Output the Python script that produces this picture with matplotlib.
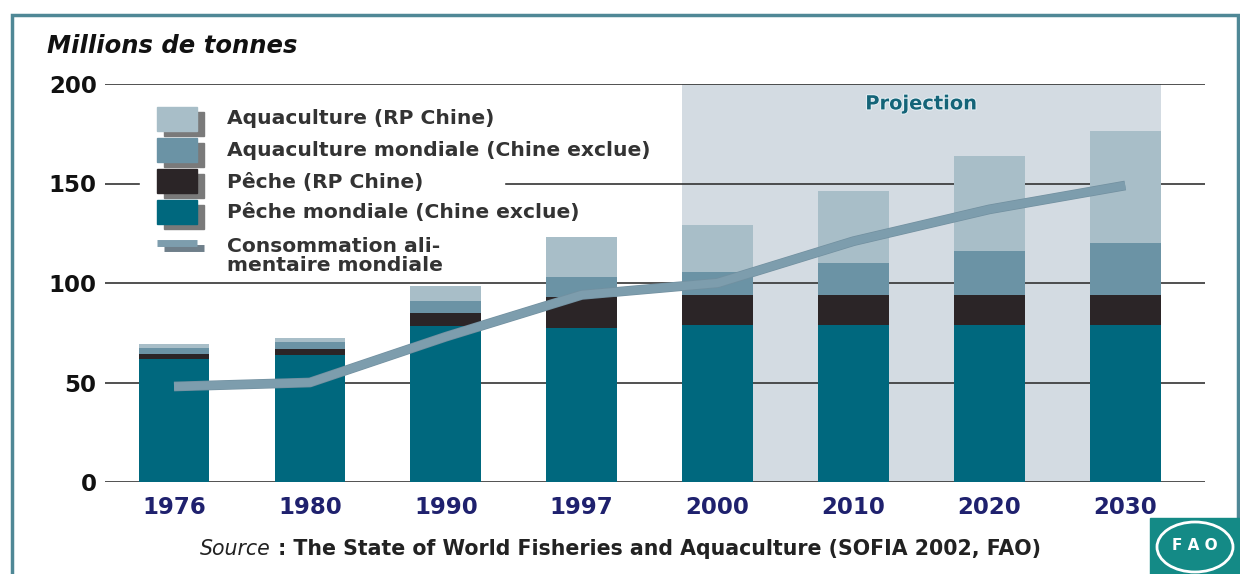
import matplotlib
matplotlib.use("Agg")
import matplotlib.pyplot as plt
import matplotlib.patheffects as pe
from matplotlib.patches import Rectangle, Ellipse
from matplotlib.lines import Line2D

W, H = 1240, 574

years = ["1976", "1980", "1990", "1997", "2000", "2010", "2020", "2030"]
peche_monde = [62, 64, 78.5, 77.5, 79, 79, 79, 79]
peche_chine = [2.5, 3, 6.5, 15.5, 15, 15, 15, 15]
aqua_monde = [3, 3.5, 6, 10, 11.5, 16, 22, 26]
aqua_chine = [2, 2, 7.5, 20, 23.5, 36, 48, 56.5]
consommation = [48, 50, 73, 94, 100, 121, 137, 149]

labels = ["Aquaculture (RP Chine)", "Aquaculture mondiale (Chine exclue)",
          "Pêche (RP Chine)", "Pêche mondiale (Chine exclue)",
          "Consommation ali-\nmentaire mondiale"]

c_teal = "#00687e"
c_black = "#2b2527"
c_mid = "#6b93a5"
c_light = "#a8bec8"
c_proj = "#d3dbe2"
c_line = "#7d9dad"
c_navy = "#1f216e"


def px(x, y):
    return (x / W, 1 - y / H)


plt.rcParams['font.family'] = ['DejaVu Sans']
fig = plt.figure(figsize=(W / 100, H / 100), dpi=100)
fig.patch.set_facecolor("white")

left, bottom = px(105, 482)
ax = fig.add_axes([left, bottom, 1100 / W, 398 / H])
x = list(range(len(years)))
ax.set_xlim(-0.508, 7.587)
ax.set_ylim(0, 200)

# projection zone
ax.axvspan(4 - 0.26, 7 + 0.26, ymin=0, ymax=1, color=c_proj, zorder=0, lw=0)
for yv in [0, 50, 100, 150, 200]:
    ax.axhline(yv, color="#333333", lw=1.2, zorder=1)

bw = 0.52
b1 = peche_monde
b2 = [a + b for a, b in zip(b1, peche_chine)]
b3 = [a + b for a, b in zip(b2, aqua_monde)]
ax.bar(x, peche_monde, bw, color=c_teal, zorder=3)
ax.bar(x, peche_chine, bw, bottom=b1, color=c_black, zorder=3)
ax.bar(x, aqua_monde, bw, bottom=b2, color=c_mid, zorder=3)
ax.bar(x, aqua_chine, bw, bottom=b3, color=c_light, zorder=3)
ax.plot(x, consommation, color=c_line, lw=6, zorder=4, solid_capstyle="butt",
        path_effects=[pe.Stroke(linewidth=7, foreground="#7290a0"), pe.Normal()])

for s in ax.spines.values():
    s.set_visible(False)
ax.set_yticks([0, 50, 100, 150, 200])
ax.set_yticklabels(["0", "50", "100", "150", "200"], fontsize=16.5,
                   fontweight="bold", color="#111111")
ax.set_xticks(x)
ax.set_xticklabels(years, fontsize=16.5, fontweight="bold", color=c_navy)
ax.tick_params(axis="both", length=0)
ax.tick_params(axis="y", pad=6)
ax.tick_params(axis="x", pad=10)

ax.text(5.5, 190, "Projection", ha="center", va="center", fontsize=14,
        fontweight="bold", color="#146478", zorder=5,
        path_effects=[pe.withStroke(linewidth=1.5, foreground="#e4eff4")])

# legend drawn by hand
lx0, ly0 = px(140, 275)
fig.add_artist(Rectangle((lx0, ly0), (504 - 140) / W, 180 / H,
                         transform=fig.transFigure, color="white", zorder=2))
fills = [c_light, c_mid, c_black, c_teal]
tops = [107, 138, 169, 200]
for col, top in zip(fills, tops):
    sx, sy = px(164, top + 29)
    fig.add_artist(Rectangle((sx, sy), 40 / W, 24 / H, transform=fig.transFigure,
                             color="#7a7a7a", zorder=3))
    mx, my = px(157, top + 24)
    fig.add_artist(Rectangle((mx, my), 40 / W, 24 / H, transform=fig.transFigure,
                             color=col, zorder=4))
fig.add_artist(Line2D([164 / W, 204 / W], [1 - 248 / H, 1 - 248 / H],
                      transform=fig.transFigure, color="#6f7f8a", lw=5, zorder=3,
                      solid_capstyle="butt"))
fig.add_artist(Line2D([157 / W, 197 / W], [1 - 243 / H, 1 - 243 / H],
                      transform=fig.transFigure, color=c_line, lw=5, zorder=4,
                      solid_capstyle="butt"))
text_y = [118, 151, 182, 212, 256]
for lab, ty in zip(labels, text_y):
    tx, tyf = px(227, ty)
    fig.text(tx, tyf, lab, ha="left", va="center", fontsize=14.6,
             fontweight="bold", color="#333333", linespacing=1.05, zorder=5)

fig.text(*px(47, 46), "Millions de tonnes", ha="left", va="center",
         fontsize=17.5, fontweight="bold", style="italic", color="#111111")

src = fig.text(*px(200, 549), "Source", ha="left", va="center", fontsize=14.8,
               style="italic", color="#222222")
ax.annotate(" : The State of World Fisheries and Aquaculture (SOFIA 2002, FAO)",
            xy=(1, 0.5), xycoords=src, ha="left", va="center", fontsize=14.8,
            fontweight="bold", color="#222222", annotation_clip=False)

# outer frame
fx, fy = px(12, 590)
fig.add_artist(Rectangle((fx, fy), (1238 - 12) / W, (590 - 15) / H,
                         transform=fig.transFigure, fill=False,
                         edgecolor="#4f8896", lw=2.5, zorder=6))

# FAO logo
gx, gy = px(1150, 574)
fig.add_artist(Rectangle((gx, gy), 90 / W, 56 / H, transform=fig.transFigure,
                         color="#148a86", zorder=7))
fig.add_artist(Ellipse(px(1195, 547), 76 / W, 50 / H, transform=fig.transFigure,
                       fill=False, edgecolor="white", lw=2, zorder=8))
fig.text(*px(1195, 545), "F A O", ha="center", va="center", fontsize=11,
         fontweight="bold", color="white", zorder=9)

fig.savefig("out.png", dpi=100)
